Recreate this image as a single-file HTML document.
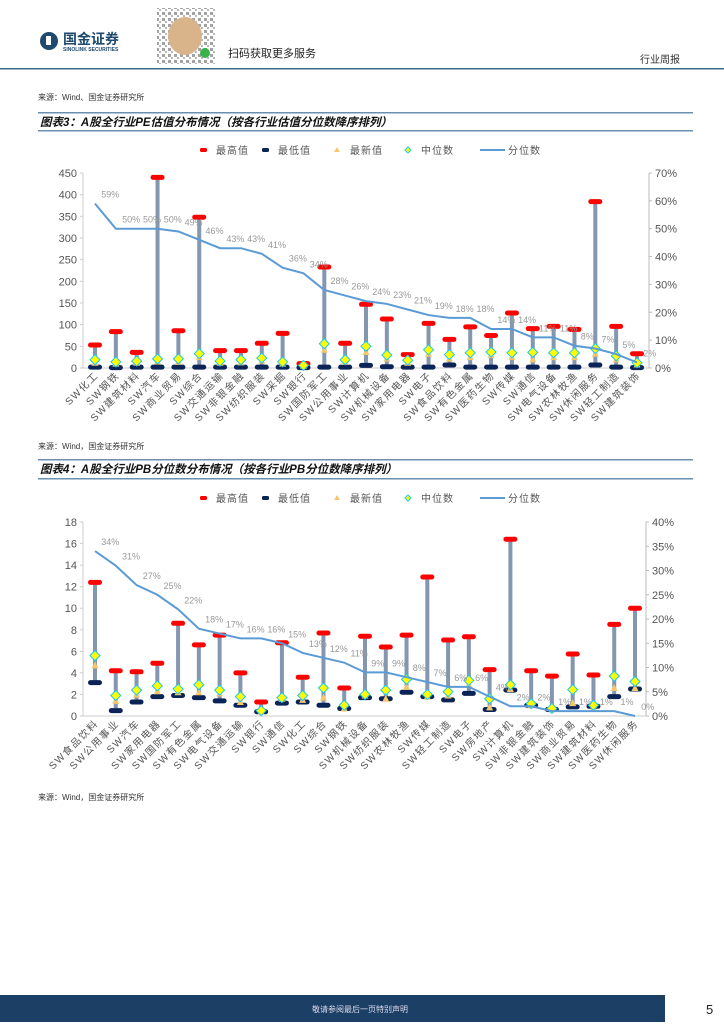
<!DOCTYPE html>
<html><head><meta charset="utf-8">
<style>
body{margin:0;width:724px;height:1024px;background:#fff;overflow:hidden;font-family:"Liberation Sans","Noto Sans CJK SC",sans-serif;}
svg{display:block}
</style></head>
<body>
<svg id="pg" width="724" height="1024" viewBox="0 0 724 1024" xmlns="http://www.w3.org/2000/svg">
<defs>
<pattern id="qrp" width="6" height="6" patternUnits="userSpaceOnUse">
<rect x="0" y="0" width="3" height="3" fill="#666"/><rect x="3" y="3" width="2" height="2" fill="#888"/>
</pattern>
</defs>
<g>
  <circle cx="49" cy="41" r="9" fill="#1d4a6e"/>
  <rect x="46" y="36" width="5" height="9" fill="#fff"/>
  <text x="63" y="44" font-size="14" font-weight="bold" fill="#1d4a6e">国金证券</text>
  <text x="63" y="51" font-size="5" font-weight="bold" fill="#1d4a6e">SINOLINK SECURITIES</text>
  <rect x="157" y="8" width="58" height="56" fill="url(#qrp)" opacity="0.6"/>
  <ellipse cx="185" cy="36" rx="17" ry="19" fill="#d9b48a"/>
  <circle cx="205" cy="53" r="5" fill="#3cb04a"/>
  <text x="228" y="57" font-size="11" fill="#222">扫码获取更多服务</text>
  <text x="640" y="63" font-size="10" fill="#333">行业周报</text>
  <rect x="0" y="68" width="724" height="1.5" fill="#3d6a8a"/>
</g>
<text x="38" y="100" font-size="8" fill="#333">来源：Wind、国金证券研究所</text>
<g>
  <rect x="38" y="112" width="655" height="1.5" fill="#6a8fb0"/>
  <rect x="38" y="130" width="655" height="1.5" fill="#6a8fb0"/>
  <text x="40" y="126" font-size="11.5" font-weight="bold" font-style="italic" fill="#111">图表3：A股全行业PE估值分布情况（按各行业估值分位数降序排列）</text>
</g>
<g id="c1"></g>
<text x="38" y="449" font-size="8" fill="#333">来源：Wind，国金证券研究所</text>
<g>
  <rect x="38" y="459" width="655" height="1.5" fill="#6a8fb0"/>
  <rect x="38" y="478" width="655" height="1.5" fill="#6a8fb0"/>
  <text x="40" y="473" font-size="11.5" font-weight="bold" font-style="italic" fill="#111">图表4：A股全行业PB分位数分布情况（按各行业PB分位数降序排列）</text>
</g>
<g id="c2"></g>
<text x="38" y="800" font-size="8" fill="#333">来源：Wind，国金证券研究所</text>
<g>
  <rect x="0" y="995" width="665" height="27" fill="#1c3f66"/>
  <text x="360" y="1012" font-size="8" fill="#dde" text-anchor="middle">敬请参阅最后一页特别声明</text>
  <text x="706" y="1014" font-size="13" fill="#222">5</text>
</g>
</svg>
<script>
const peCats=["化工","钢铁","建筑材料","汽车","商业贸易","综合","交通运输","非银金融","纺织服装","采掘","银行","国防军工","公用事业","计算机","机械设备","家用电器","电子","食品饮料","有色金属","医药生物","传媒","通信","电气设备","农林牧渔","休闲服务","轻工制造","建筑装饰"];
const peMax=[53,84,36,440,86,348,40,40,57,80,10,233,57,147,113,31,103,66,95,75,127,91,96,89,384,96,33];
const peMin=[2,1,2,2,2,2,2,2,2,2,1,2,2,6,3,2,2,7,2,2,2,2,2,2,7,2,1];
const peLatest=[12,10,12,15,14,25,12,13,17,10,5,42,14,37,22,12,33,22,25,30,25,20,25,25,33,20,8];
const peMedian=[19,14,16,21,21,33,16,19,23,14,6,56,19,50,30,18,42,31,35,37,35,36,35,35,45,28,12];
const pePct=[59,50,50,50,49,46,43,43,41,36,34,28,26,24,23,21,19,18,18,14,14,11,11,8,7,5,2];
const peLeftTicks=[0,50,100,150,200,250,300,350,400,450];
const peRightTicks=[0,10,20,30,40,50,60,70];

const pbCats=["食品饮料","公用事业","汽车","家用电器","国防军工","有色金属","电气设备","交通运输","银行","通信","化工","综合","钢铁","机械设备","纺织服装","农林牧渔","传媒","轻工制造","电子","房地产","计算机","非银金融","建筑装饰","商业贸易","建筑材料","医药生物","休闲服务"];
const pbMax=[12.4,4.2,4.1,4.9,8.6,6.6,7.5,4.0,1.3,6.8,3.6,7.7,2.6,7.4,6.4,7.5,12.9,7.05,7.35,4.3,16.4,4.2,3.7,5.75,3.8,8.5,10.0];
const pbMin=[3.1,0.5,1.3,1.8,1.9,1.7,1.4,1.0,0.4,1.2,1.3,1.0,0.7,1.7,1.6,2.2,1.8,1.5,2.1,0.6,2.4,1.0,0.6,0.85,0.9,1.8,2.5];
const pbLatest=[4.7,1.4,2.0,2.3,2.2,2.2,2.1,1.3,0.4,1.6,1.5,1.7,0.7,1.9,1.6,2.7,1.8,1.9,2.9,0.8,2.5,1.0,0.6,1.2,0.8,2.6,2.6];
const pbMedian=[5.6,1.9,2.4,2.8,2.5,2.9,2.4,1.8,0.5,1.7,1.9,2.6,1.0,2.0,2.4,3.4,2.0,2.25,3.3,1.6,2.9,1.15,0.7,2.45,1.0,3.7,3.2];
const pbPct=[34,31,27,25,22,18,17,16,16,15,13,12,11,9,9,8,7,6,6,4,2,2,1,1,1,1,0];
const pbLeftTicks=[0,2,4,6,8,10,12,14,16,18];
const pbRightTicks=[0,5,10,15,20,25,30,35,40];

const NS="http://www.w3.org/2000/svg";
function mk(p,t,a){const e=document.createElementNS(NS,t);for(const k in a)e.setAttribute(k,a[k]);p.appendChild(e);return e;}

function draw(gid,cats,mx,mn,lt,md,pct,lt_,rt_,cfg){
  const g=document.getElementById(gid);
  const {top,bot,x0,x1,axL,axR,lmax,rmax,legY}=cfg;
  const step=(x1-x0)/(cats.length-1);
  const X=i=>x0+i*step;
  const Y=v=>bot-(v/lmax)*(bot-top);
  const YR=v=>bot-(v/rmax)*(bot-top);
  const lg=mk(g,'g',{});
  
  
  const lx=[200,262,334,405,480];
  const names=["最高值","最低值","最新值","中位数","分位数"];
  mk(lg,'rect',{x:lx[0],y:legY-3,width:7,height:4,rx:1.5,fill:'#f00'});
  mk(lg,'rect',{x:lx[1],y:legY-3,width:7,height:4,rx:1.5,fill:'#0b2457'});
  mk(lg,'polygon',{points:`${lx[2]},${legY+1} ${lx[2]+3},${legY-4} ${lx[2]+6},${legY+1}`,fill:'#f5c76b'});
  mk(lg,'polygon',{points:`${lx[3]+3},${legY-4} ${lx[3]+6},${legY-1} ${lx[3]+3},${legY+2} ${lx[3]},${legY-1}`,fill:'#ff0',stroke:'#19c8f0','stroke-width':1});
  mk(lg,'line',{x1:lx[4],y1:legY-1,x2:lx[4]+25,y2:legY-1,stroke:'#5b9bd5','stroke-width':2});
  names.forEach((n,i)=>{const t=mk(lg,'text',{x:lx[i]+(i==4?28:16),y:legY+3,'font-size':10,fill:'#555','letter-spacing':1});t.textContent=n;
    
    });
  mk(g,'line',{x1:axL,y1:top,x2:axL,y2:bot,stroke:'#ccc'});
  mk(g,'line',{x1:axR,y1:top,x2:axR,y2:bot,stroke:'#bbb'});
  mk(g,'line',{x1:axL,y1:bot,x2:axR,y2:bot,stroke:'#ccc'});
  lt_.forEach(v=>{mk(g,'line',{x1:axL-3,y1:Y(v),x2:axL,y2:Y(v),stroke:'#ccc'});
    const t=mk(g,'text',{x:axL-6,y:Y(v)+4,'font-size':11,fill:'#555','text-anchor':'end'});t.textContent=v;
    
    });
  rt_.forEach(v=>{mk(g,'line',{x1:axR,y1:YR(v),x2:axR+3,y2:YR(v),stroke:'#bbb'});
    const t=mk(g,'text',{x:axR+6,y:YR(v)+4,'font-size':11,fill:'#555'});t.textContent=v+'%';
    
    });
  const pts=pct.map((v,i)=>X(i)+','+YR(v)).join(' ');
  cats.forEach((c,i)=>{const x=X(i);
    const r=mk(g,'rect',{x:x-2,y:Y(mx[i]),width:4,height:Y(mn[i])-Y(mx[i]),fill:'#8497b0'});
    
    
    const a=mk(g,'rect',{x:x-7,y:Y(mx[i])-2.5,width:14,height:5,rx:2.5,fill:'#f00'});
    
    
    const b=mk(g,'rect',{x:x-7,y:Y(mn[i])-2.5,width:14,height:5,rx:2.5,fill:'#0b2457'});
    
    
    const ly=Y(lt[i]);
    const tr=mk(g,'polygon',{points:`${x-3.5},${ly+3} ${x},${ly-4} ${x+3.5},${ly+3}`,fill:'#f5c76b'});
    
    
    const my=Y(md[i]);
    const d=mk(g,'polygon',{points:`${x},${my-5} ${x+5},${my} ${x},${my+5} ${x-5},${my}`,fill:'#ffff00',stroke:'#19c8f0','stroke-width':1});
    
    
    const t=mk(g,'text',{transform:`translate(${x+4},${bot+8}) rotate(-45)`,'font-size':10,fill:'#555','text-anchor':'end','letter-spacing':1.5});
    t.textContent='SW'+c;
    
    
  });
  const pl=mk(g,'polyline',{points:pts,fill:'none',stroke:'#5b9bd5','stroke-width':2});
  
  
  pct.forEach((v,i)=>{const t=mk(g,'text',{x:X(i)+step*0.3,y:YR(v)-6,'font-size':9,fill:'#999'});t.textContent=v+'%';
    
    });
}
draw('c1',peCats,peMax,peMin,peLatest,peMedian,pePct,peLeftTicks,peRightTicks,
  {top:173,bot:368,x0:95,x1:637,axL:83,axR:649,lmax:450,rmax:70,legY:151});
draw('c2',pbCats,pbMax,pbMin,pbLatest,pbMedian,pbPct,pbLeftTicks,pbRightTicks,
  {top:522,bot:716,x0:95,x1:635,axL:83,axR:646,lmax:18,rmax:40,legY:499});
</script>
</body></html>
